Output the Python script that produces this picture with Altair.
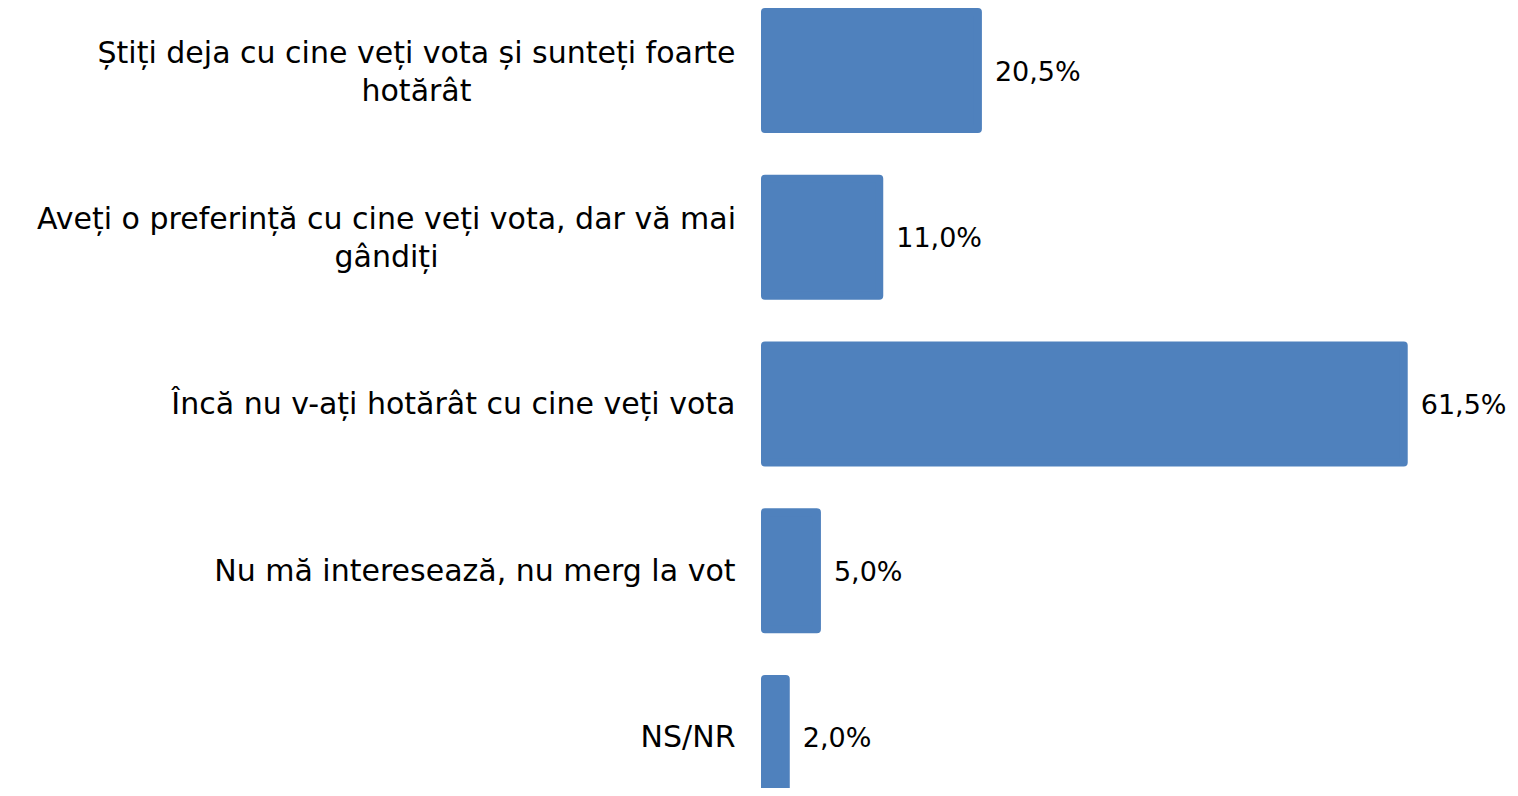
import json
import altair as alt
import pandas as pd

categories = [
    "Știți deja cu cine veți vota și sunteți foarte\nhotărât",
    "Aveți o preferință cu cine veți vota, dar vă mai\ngândiți",
    "Încă nu v-ați hotărât cu cine veți vota",
    "Nu mă interesează, nu merg la vot",
    "NS/NR",
]
values = [20.5, 11.0, 61.5, 5.0, 2.0]
value_labels = ["20,5%", "11,0%", "61,5%", "5,0%", "2,0%"]

df = pd.DataFrame({"cat": categories, "val": values, "lbl": value_labels})

FONT = "DejaVu Sans"
BLUE = "#4F81BD"

def is_cat(i):
    return "datum.value == " + json.dumps(categories[i])

multi = "indexof(datum.value, '\\n') >= 0"

y = alt.Y(
    "cat:N",
    sort=categories,
    scale=alt.Scale(paddingInner=0.298, paddingOuter=0, range=[0, 784]),
    axis=alt.Axis(
        title=None,
        ticks=False,
        tickSize=0,
        domain=False,
        labelPadding={
            "condition": [
                {"test": is_cat(0), "value": 349},
                {"test": is_cat(1), "value": 379},
            ],
            "value": 30,
        },
        labelAlign={"condition": {"test": multi, "value": "center"}, "value": "right"},
        labelOffset={"condition": {"test": multi, "value": -17}, "value": 1},
        labelFont=FONT,
        labelFontSize=30,
        labelColor="#000000",
        labelLimit=0,
        labelLineHeight=38,
        labelExpr="split(datum.label, '\\n')",
    ),
)
x = alt.X(
    "val:Q",
    scale=alt.Scale(domain=[0, 70], nice=False, zero=True),
    axis=None,
)

bars = alt.Chart(df).mark_bar(
    color=BLUE, stroke=BLUE, strokeWidth=8, strokeJoin="round"
).encode(x=x, y=y)

texts = alt.Chart(df).mark_text(
    align="left", baseline="middle", dx=17, dy=2, font=FONT, fontSize=27, color="#000000"
).encode(x=x, y=y, text="lbl:N")

chart = (
    alt.layer(bars, texts)
    .properties(
        width=727,
        height=776,
        background="white",
        autosize=alt.AutoSizeParams(type="none"),
        padding={"left": 757, "top": 4, "right": 18, "bottom": 0},
    )
    .configure_view(strokeWidth=0, stroke="transparent")
)

chart.save("out.html", embed_options={"renderer": "svg", "actions": False})
